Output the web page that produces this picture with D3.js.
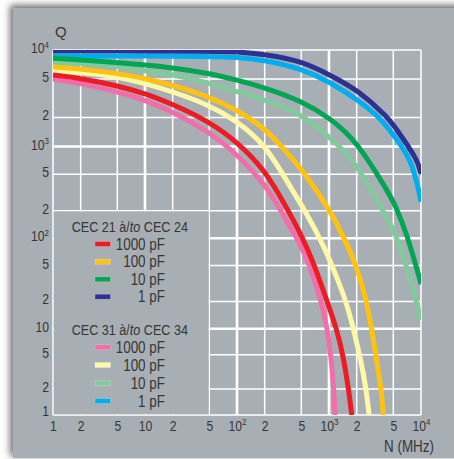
<!DOCTYPE html>
<html>
<head>
<meta charset="utf-8">
<script src="https://cdn.jsdelivr.net/npm/d3@7"></script>
<style>
  body { margin: 0; background: #fff; }
</style>
</head>
<body>
<svg id="chart"></svg>
<script>
// N (MHz) , Q
var cec21_1000pF = [[1,5500],[2,5100],[5,4270],[10,3560],[20,2740],[50,1810],[100,1120],[200,560],[347,215],[512,104],[704,49],[959,19.6],[1212,10],[1430,4.8],[1649,1.86],[1766,1]];
var cec21_100pF  = [[1,6700],[2,6350],[5,5740],[10,5090],[20,4340],[50,3280],[100,2390],[200,1545],[306,1000],[548,511],[983,215],[1374,115],[2032,48],[2570,19.6],[2912,10],[3243,4.8],[3740,1.86],[3892,1]];
var cec21_10pF   = [[1,8200],[2,7900],[5,7430],[10,7000],[20,6560],[50,5740],[100,4890],[200,4070],[500,2970],[1025,1970],[2000,1150],[4603,296],[5217,230],[6993,114],[9750,34.6],[10000,31]];
var cec21_1pF    = [[1,9800],[10,9800],[50,9750],[100,9600],[200,9000],[500,7700],[1025,5500],[2065,3850],[4378,2000],[5217,1590],[9277,712],[10000,500]];

var cec31_1000pF = [[1,4970],[2,4520],[5,3700],[10,3030],[20,2290],[50,1420],[100,822],[200,390],[293,208],[445,100],[512,77.5],[621,49.4],[833,19.6],[958,10],[1051,4.83],[1133,1.86],[1162,1]];
var cec31_100pF  = [[1,6060],[2,5880],[5,5290],[10,4520],[20,3700],[50,2690],[100,1840],[200,1040],[293,560],[526,215],[798,100],[1043,55],[1557,19.6],[1837,10],[2173,4.83],[2570,1.86],[2722,1]];
var cec31_10pF   = [[1,7460],[2,7280],[5,6870],[10,6060],[20,5600],[50,4520],[100,3700],[200,3030],[500,2210],[1090,1168],[1419,916],[2032,620],[4603,146],[5217,114],[6993,50.7],[10000,12.5]];
var cec31_1pF    = [[1,8670],[10,8670],[50,8600],[100,8460],[200,7870],[500,6400],[1025,4660],[2065,3030],[3584,2000],[5217,1254],[7925,712],[9750,290],[10000,250]];

var groupTitles = ["CEC 21 à/to CEC 24", "CEC 31 à/to CEC 34"];
var capLabels = ["1000 pF", "100 pF", "10 pF", "1 pF"];
var groups = [
  [cec21_1000pF, cec21_100pF, cec21_10pF, cec21_1pF],
  [cec31_1000pF, cec31_100pF, cec31_10pF, cec31_1pF]
];
var groupColors = [
  ["#ed1c24", "#ffc20e", "#00a651", "#2e3192"],
  ["#f06eaa", "#fff8a6", "#82ca9c", "#00aeef"]
];

var gridValues = [1,2,5,10,20,50,100,200,500,1000,2000,5000,10000];
var xTickLabels = ["1","2","5","10","2","5","10^2","2","5","10^3","2","5","10^4"];
var yTickLabels = ["1","2","5","10","2","5","10^2","2","5","10^3","2","5","10^4"];

var W = 454, H = 459;
var FONT = "'Liberation Sans', Arial, sans-serif";
var SQUEEZE = 0.84;   // condensed look of the printed type
var TXT = "#363636";
var PANEL = "#a8afb4";

var svg = d3.select("#chart").attr("width", W).attr("height", H);

// frame with soft shadow top/left
var defs = svg.append("defs");
defs.append("filter").attr("id", "shadow").attr("x", "-10%").attr("y", "-10%").attr("width", "120%").attr("height", "120%")
  .append("feGaussianBlur").attr("stdDeviation", 3.5);
svg.append("rect").attr("x", 10).attr("y", 5).attr("width", 470).attr("height", 451)
  .attr("fill", "#6c6c6c").attr("filter", "url(#shadow)");
svg.append("rect").attr("x", 13).attr("y", 8).attr("width", 460).attr("height", 450).attr("fill", PANEL);

// the printed grid is not quite regular per decade
var x = d3.scaleLog().domain([1, 10000]).range([53, 421]);
var y = d3.scaleLog().domain([1, 10, 100, 1000, 10000]).range([415, 328.7, 238.3, 146.5, 50]);

function isDecade(v) { return v == 10 || v == 100 || v == 1000; }

var grid = svg.append("g").attr("stroke", "#fff");
grid.selectAll(".vx").data(gridValues).enter().append("line")
  .attr("x1", d => x(d)).attr("x2", d => x(d))
  .attr("y1", y(10000)).attr("y2", y(1))
  .attr("stroke-width", d => isDecade(d) ? 2.6 : 1.5);
grid.selectAll(".hy").data(gridValues).enter().append("line")
  .attr("y1", d => y(d)).attr("y2", d => y(d))
  .attr("x1", x(1)).attr("x2", x(10000))
  .attr("stroke-width", d => isDecade(d) ? 2.6 : 1.5);

// legend box hides the grid in the lower left cell
svg.append("rect")
  .attr("x", x(1) + 0.8).attr("y", y(200) + 0.8)
  .attr("width", x(50) - x(1) - 1.6).attr("height", y(1) - y(200) - 1.6)
  .attr("fill", PANEL);

// curves
defs.append("clipPath").attr("id", "plot").append("rect")
  .attr("x", x(1)).attr("y", y(10000)).attr("width", x(10000) - x(1)).attr("height", y(1) - y(10000));

var line = d3.line().x(d => x(d[0])).y(d => y(d[1])).curve(d3.curveBasis);
var curves = svg.append("g").attr("clip-path", "url(#plot)");
[1, 0].forEach(function(g) {
  groups[g].forEach(function(s, i) {
    curves.append("path").datum(s)
      .attr("d", line)
      .attr("fill", "none")
      .attr("stroke", groupColors[g][i])
      .attr("stroke-width", 5)
      .attr("stroke-linejoin", "round");
  });
});

function supText(sel, labels) {
  sel.each(function(d, i) {
    var t = d3.select(this), parts = labels[i].split("^");
    t.text(parts[0]);
    if (parts[1]) t.append("tspan").attr("dy", -5.5).attr("font-size", 9.5).text(parts[1]);
  });
}

// place text in condensed form at (px, py)
function label(px, py, size, squeeze) {
  return svg.append("text")
    .attr("transform", "translate(" + px + "," + py + ") scale(" + (squeeze || SQUEEZE) + ",1)")
    .attr("font-family", FONT).attr("font-size", size).attr("fill", TXT);
}

// x axis labels
var xAxis = svg.append("g").attr("transform", "translate(0," + y(1) + ")")
  .call(d3.axisBottom(x).tickValues(gridValues).tickSize(0).tickFormat(""));
xAxis.select(".domain").remove();
xAxis.selectAll(".tick text")
  .attr("y", 16).attr("dy", 0).attr("x", 0)
  .attr("transform", "scale(" + SQUEEZE + ",1)")
  .attr("font-family", FONT).attr("font-size", 14.5).attr("fill", TXT)
  .call(supText, xTickLabels);

// y axis labels
var yAxis = svg.append("g").attr("transform", "translate(" + x(1) + ",0)")
  .call(d3.axisLeft(y).tickValues(gridValues).tickSize(0).tickFormat(""));
yAxis.select(".domain").remove();
yAxis.selectAll(".tick text")
  .attr("x", -4 / SQUEEZE).attr("dy", 0).attr("y", d => d == 1 ? 0 : 2.5)
  .attr("transform", "scale(" + SQUEEZE + ",1)")
  .attr("font-family", FONT).attr("font-size", 14.5).attr("fill", TXT)
  .call(supText, yTickLabels);

label(55, 36.5, 15, 1).text("Q");
label(434, 452, 16).attr("text-anchor", "end").text("N (MHz)");

// legend
var titleY = [231.7, 335];
var rowY = [[244, 261.7, 279.3, 296.7], [347.3, 365, 383.3, 401]];
groupTitles.forEach(function(title, g) {
  var t = label(71.7, titleY[g], 15);
  var m = title.match(/^(.*à\/)(to)(.*)$/);
  t.append("tspan").text(m[1]);
  t.append("tspan").attr("font-style", "italic").text(m[2]);
  t.append("tspan").text(m[3]);
  capLabels.forEach(function(lab, i) {
    svg.append("rect").attr("x", 95).attr("y", rowY[g][i] - 2.5)
      .attr("width", 15.5).attr("height", 5)
      .attr("fill", groupColors[g][i])
      .attr("stroke", "rgba(255,255,255,0.35)").attr("stroke-width", 0.6);
    label(165, rowY[g][i] + 5.5, 16).attr("text-anchor", "end").text(lab);
  });
});
</script>
</body>
</html>
